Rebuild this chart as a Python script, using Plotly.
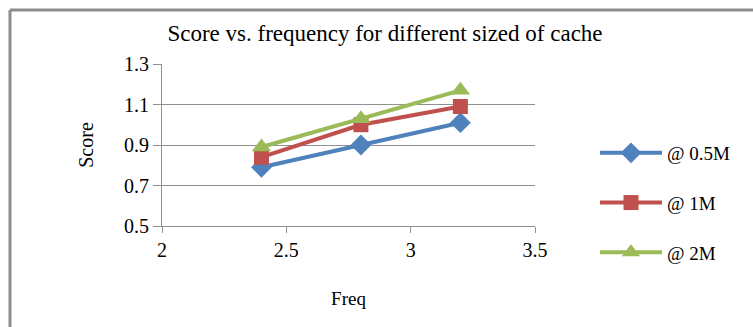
import plotly.graph_objects as go

# Score measured at each clock frequency, one series per cache size
freq = [2.4, 2.8, 3.2]
score_05m = [0.79, 0.90, 1.01]
score_1m = [0.84, 1.00, 1.09]
score_2m = [0.89, 1.03, 1.17]

series_names = ["@ 0.5M", "@ 1M", "@ 2M"]
series_values = [score_05m, score_1m, score_2m]
series_colors = ["#4F81BD", "#C0504D", "#9BBB59"]
series_symbols = ["diamond", "square", "triangle-up"]
series_sizes = [16, 15, 17]

x_ticks = [2, 2.5, 3, 3.5]
y_ticks = [0.5, 0.7, 0.9, 1.1, 1.3]

W, H = 753, 327
L, R, T, B = 162, 218, 64, 101
plot_w = W - L - R
plot_h = H - T - B

FONT = "Liberation Serif"
AXIS_GREY = "#909090"

fig = go.Figure()
for name, vals, col, sym, sz in zip(series_names, series_values, series_colors,
                                    series_symbols, series_sizes):
    fig.add_trace(go.Scatter(
        x=freq, y=vals, name=name, legendgroup=name,
        mode="lines+markers",
        line=dict(color=col, width=4),
        marker=dict(symbol=sym, size=sz, color=col),
    ))


def px_x(px):
    return (px - L) / plot_w


def px_y(py):
    return (H - B - py) / plot_h


# outer frame around the chart (left and top edges visible)
frame = dict(color="#8c8c8c", width=3)
fig.add_shape(type="line", xref="paper", yref="paper",
              x0=px_x(10), x1=px_x(10), y0=px_y(10), y1=px_y(H + 5), line=frame)
fig.add_shape(type="line", xref="paper", yref="paper",
              x0=px_x(10), x1=px_x(W + 5), y0=px_y(10), y1=px_y(10), line=frame)

fig.update_layout(
    width=W, height=H,
    margin=dict(l=L, r=R, t=T, b=B),
    paper_bgcolor="white", plot_bgcolor="white",
    font=dict(family=FONT, size=20, color="black"),
    title=dict(text="Score vs. frequency for different sized of cache",
               font=dict(family=FONT, size=23, color="black"),
               x=px_x(385), xref="paper", xanchor="center",
               y=1 - 33 / H, yanchor="middle"),
    showlegend=True,
    legend=dict(x=px_x(595), y=px_y(134), xanchor="left", yanchor="top",
                font=dict(family=FONT, size=19, color="black"),
                itemwidth=62,
                tracegroupgap=22, bgcolor="rgba(0,0,0,0)"),
)

fig.update_xaxes(
    range=[2, 3.5], tickvals=x_ticks, ticktext=[str(v) for v in x_ticks],
    showgrid=False, zeroline=False,
    showline=True, linecolor=AXIS_GREY, linewidth=1,
    ticks="outside", ticklen=6, tickcolor=AXIS_GREY,
    tickfont=dict(family=FONT, size=20, color="black"),
    title=dict(text="Freq", font=dict(family=FONT, size=19, color="black"),
               standoff=31),
)
fig.update_yaxes(
    range=[0.5, 1.3], tickvals=y_ticks, ticktext=[str(v) for v in y_ticks],
    showgrid=True, gridcolor=AXIS_GREY, gridwidth=1, zeroline=False,
    showline=True, linecolor=AXIS_GREY, linewidth=1,
    ticks="outside", ticklen=8, tickcolor=AXIS_GREY,
    tickfont=dict(family=FONT, size=20, color="black"),
    title=dict(text="Score", font=dict(family=FONT, size=20, color="black"),
               standoff=25),
)

fig.write_html("out.html")
